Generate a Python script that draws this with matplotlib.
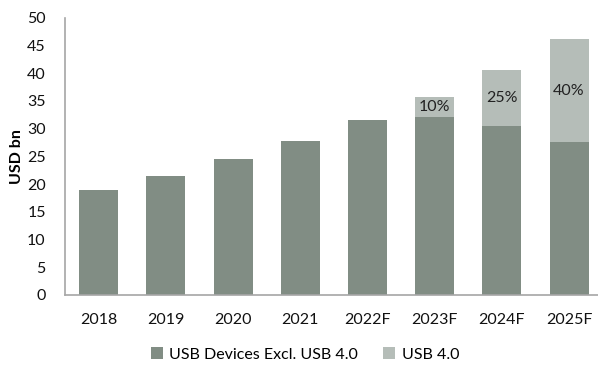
import numpy as np
import matplotlib
matplotlib.use("Agg")
import matplotlib.pyplot as plt

plt.rcParams['font.family'] = ['Lato', 'DejaVu Sans']

years = ['2018', '2019', '2020', '2021', '2022F', '2023F', '2024F', '2025F']
excl_usb4 = [19.0, 21.5, 24.5, 27.8, 31.5, 32.1, 30.4, 27.6]
usb4 = [0, 0, 0, 0, 0, 3.6, 10.2, 18.5]
share_labels = ['', '', '', '', '', '10%', '25%', '40%']

dark = '#818d84'
light = '#b5bdb8'
fs = 11.5

fig = plt.figure(figsize=(5.98, 3.65), dpi=100)
ax = fig.add_axes([0.109, 0.192, 0.891, 0.759])

x = np.arange(len(years))
w = 0.58
ax.bar(x, excl_usb4, width=w, color=dark, label='USB Devices Excl. USB 4.0')
ax.bar(x, usb4, width=w, bottom=excl_usb4, color=light, label='USB 4.0')

# share of USB 4.0 written in the middle of the upper segment
for i, lab in enumerate(share_labels):
    if lab:
        ax.text(x[i], excl_usb4[i] + usb4[i] / 2, lab, ha='center', va='center',
                fontsize=fs, color='#222222')

ax.set_xlim(-0.5, 7.43)
ax.set_ylim(0, 50)
ax.set_yticks(range(0, 51, 5))
ax.set_xticks(x)
ax.set_xticklabels(years)
ax.tick_params(length=0, labelsize=fs, colors='#111111')
ax.tick_params(axis='y', pad=14)
ax.tick_params(axis='x', pad=13)

for s in ['top', 'right']:
    ax.spines[s].set_visible(False)
for s in ['left', 'bottom']:
    ax.spines[s].set_color('#a6a6a6')
    ax.spines[s].set_linewidth(1.2)

ax.set_ylabel('USD bn', fontsize=fs, fontweight='bold', labelpad=2)

fig.legend(loc='lower center', bbox_to_anchor=(0.51, -0.03), ncol=2, frameon=False,
           fontsize=fs, handlelength=0.75, handleheight=0.75, columnspacing=1.6,
           handletextpad=0.4)

fig.savefig('out.png', dpi=100)
